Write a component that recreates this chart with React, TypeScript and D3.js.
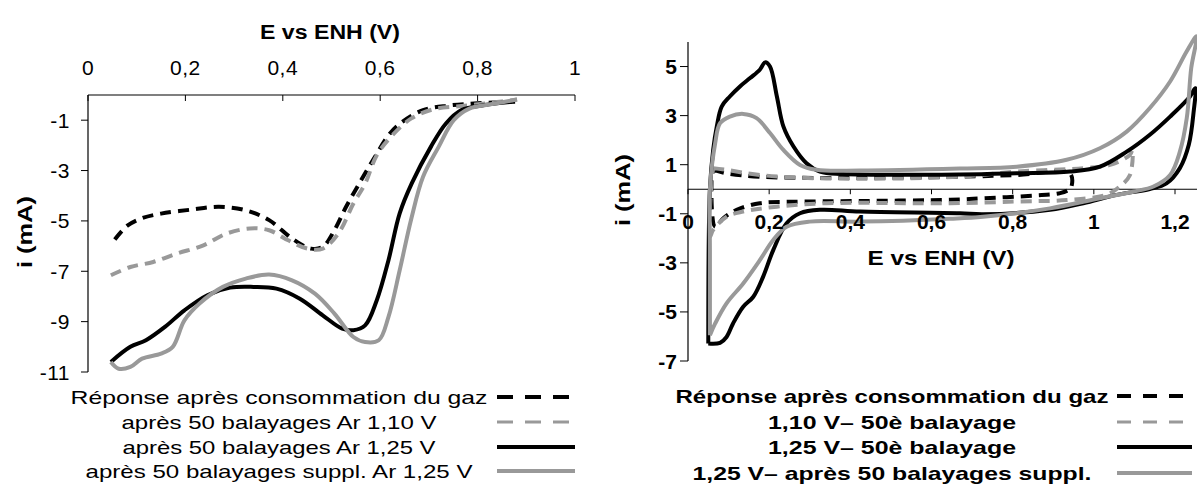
import React from "react";
import * as d3 from "d3";

// --- Graphique de gauche : voltampérométrie linéaire, E (V) / i (mA)
const lsvGaz = [[0.055,-5.74],[0.08,-5.2],[0.11,-4.9],[0.15,-4.71],[0.213,-4.55],[0.269,-4.44],[0.324,-4.58],[0.372,-4.97],[0.419,-5.7],[0.458,-6.1],[0.482,-6.03],[0.506,-5.37],[0.53,-4.44],[0.561,-3.38],[0.589,-2.46],[0.617,-1.6],[0.641,-1.13],[0.688,-0.6],[0.74,-0.42],[0.8,-0.33],[0.877,-0.27]];
const lsvAr110 = [[0.047,-7.16],[0.087,-6.83],[0.134,-6.63],[0.182,-6.3],[0.237,-5.97],[0.285,-5.5],[0.332,-5.3],[0.372,-5.37],[0.411,-5.77],[0.451,-6.1],[0.482,-6.1],[0.514,-5.5],[0.545,-4.31],[0.569,-3.52],[0.593,-2.39],[0.625,-1.6],[0.664,-0.93],[0.71,-0.56],[0.767,-0.44],[0.83,-0.3],[0.881,-0.18]];
const lsvAr125 = [[0.047,-10.6],[0.087,-10.0],[0.119,-9.74],[0.158,-9.21],[0.198,-8.55],[0.245,-7.95],[0.292,-7.65],[0.34,-7.62],[0.387,-7.69],[0.435,-8.09],[0.482,-8.75],[0.522,-9.28],[0.545,-9.34],[0.569,-9.15],[0.593,-8.15],[0.617,-6.56],[0.64,-4.7],[0.665,-3.5],[0.704,-2.06],[0.735,-1.13],[0.767,-0.6],[0.814,-0.4],[0.87,-0.27]];
const lsvSuppl = [[0.047,-10.6],[0.063,-10.87],[0.087,-10.8],[0.111,-10.47],[0.15,-10.27],[0.174,-10.0],[0.198,-8.95],[0.229,-8.28],[0.277,-7.62],[0.324,-7.29],[0.372,-7.13],[0.419,-7.36],[0.466,-7.89],[0.506,-8.68],[0.545,-9.61],[0.569,-9.81],[0.597,-9.74],[0.617,-8.81],[0.64,-6.96],[0.664,-4.9],[0.688,-3.25],[0.72,-2.06],[0.751,-1.0],[0.783,-0.54],[0.83,-0.36],[0.881,-0.18]];

// --- Graphique de droite : voltampérométrie cyclique (boucles fermées)
const cvGaz = [[0.062,0.79],[0.095,0.65],[0.177,0.51],[0.341,0.46],[0.67,0.51],[0.81,0.58],[0.941,0.65],[0.945,0.11],[0.94,0.0],[0.917,-0.16],[0.851,-0.26],[0.727,-0.37],[0.646,-0.43],[0.424,-0.48],[0.26,-0.51],[0.177,-0.57],[0.12,-0.84],[0.087,-1.18],[0.067,-1.53],[0.058,0.3],[0.062,0.79]];
const cv110 = [[0.062,0.86],[0.095,0.79],[0.177,0.58],[0.341,0.44],[0.67,0.51],[0.81,0.72],[0.974,0.86],[1.04,0.99],[1.089,1.4],[1.095,1.6],[1.089,0.58],[1.064,0.11],[1.031,-0.23],[0.933,-0.44],[0.81,-0.5],[0.646,-0.57],[0.341,-0.57],[0.219,-0.71],[0.136,-0.91],[0.095,-1.12],[0.062,-1.66],[0.054,-1.94],[0.058,0.3],[0.062,0.86]];
const cv125 = [[0.05,-6.29],[0.054,0.0],[0.062,1.6],[0.071,2.56],[0.083,3.37],[0.103,3.78],[0.128,4.19],[0.153,4.53],[0.177,4.87],[0.19,5.17],[0.202,5.0],[0.219,3.78],[0.235,2.56],[0.26,1.74],[0.292,1.06],[0.325,0.72],[0.382,0.62],[0.67,0.6],[0.81,0.65],[0.941,0.72],[1.015,0.92],[1.081,1.53],[1.138,2.22],[1.188,2.96],[1.237,3.78],[1.25,4.12],[1.246,3.17],[1.234,1.81],[1.212,0.86],[1.179,0.24],[1.138,0.01],[1.056,-0.23],[0.974,-0.57],[0.892,-0.84],[0.727,-1.02],[0.67,-0.98],[0.424,-0.91],[0.325,-0.84],[0.276,-0.98],[0.243,-1.39],[0.21,-2.48],[0.185,-3.57],[0.161,-4.38],[0.136,-4.79],[0.111,-5.47],[0.095,-6.02],[0.079,-6.26],[0.05,-6.29]];
const cvSuppl = [[0.054,-5.95],[0.054,-2.48],[0.054,0.0],[0.067,1.88],[0.079,2.69],[0.103,2.96],[0.136,3.07],[0.169,2.9],[0.202,2.29],[0.235,1.6],[0.276,0.99],[0.317,0.79],[0.424,0.76],[0.67,0.84],[0.81,0.92],[0.933,1.2],[1.015,1.67],[1.081,2.35],[1.138,3.31],[1.188,4.39],[1.229,5.62],[1.253,6.23],[1.24,4.94],[1.229,2.9],[1.212,1.53],[1.188,0.58],[1.147,0.11],[1.097,-0.1],[1.015,-0.37],[0.892,-0.78],[0.727,-1.12],[0.646,-1.2],[0.424,-1.32],[0.3,-1.32],[0.243,-1.53],[0.21,-2.07],[0.177,-2.89],[0.136,-3.84],[0.095,-4.65],[0.067,-5.47],[0.054,-5.95]];

const leftTicksX = [0, 0.2, 0.4, 0.6, 0.8, 1];
const leftTicksY = [-1, -3, -5, -7, -9, -11];
const rightTicksX = [0, 0.2, 0.4, 0.6, 0.8, 1, 1.2];
const rightTicksY = [5, 3, 1, -1, -3, -5, -7];

const legendLeft = ["Réponse après consommation du gaz", "après 50 balayages Ar 1,10 V", "après 50 balayages Ar 1,25 V", "après 50 balayages suppl. Ar 1,25 V"];
const legendRight = ["Réponse après consommation du gaz", "1,10 V– 50è balayage", "1,25 V– 50è balayage", "1,25 V– après 50 balayages suppl."];

const GRAY = "#999999";
const seriesStyle = [
  { color: "#000", dash: "11,7", w: 4 },
  { color: GRAY, dash: "11,7", w: 4 },
  { color: "#000", dash: null, w: 4 },
  { color: GRAY, dash: null, w: 4 },
];

const fr = d3.formatLocale({ decimal: ",", thousands: " ", grouping: [3], currency: ["", " €"], minus: "-" });
const fmt = fr.format("~g");

const FONT = "'Liberation Sans', Arial, sans-serif";

export default function App() {
  // gauche
  const xL = d3.scaleLinear().domain([0, 1]).range([88, 575]);
  const yL = d3.scaleLinear().domain([-11, 0]).range([372, 95]);
  // droite
  const xR = d3.scaleLinear().domain([0, 1.2]).range([688, 1175]);
  const yR = d3.scaleLinear().domain([-7, 6]).range([361, 42]);

  const lineL = d3.line().x((d) => xL(d[0])).y((d) => yL(d[1])).curve(d3.curveCatmullRom);
  const lineR = d3.line().x((d) => xR(d[0])).y((d) => yR(d[1])).curve(d3.curveCatmullRom);

  const leftSeries = [lsvGaz, lsvAr110, lsvAr125, lsvSuppl];
  const rightSeries = [cvGaz, cv110, cv125, cvSuppl];

  const legLeftY = [397, 422, 447, 471];
  const legLeftLen = [417, 315, 313, 387];
  const legRightY = [396, 422, 447, 473];
  const legRightLen = [433, 248, 248, 399];

  return (
    <svg width={1197} height={491} style={{ position: "absolute", left: 0, top: 0, background: "#fff" }} fontFamily={FONT}>
      <rect width={1197} height={491} fill="#fff" />

      {/* ---------- gauche ---------- */}
      <g>
        <text x={330} y={32} textAnchor="middle" dominantBaseline="central" fontSize={20} fontWeight="bold" textLength={140} lengthAdjust="spacingAndGlyphs">E vs ENH (V)</text>
        <text transform={`translate(24,232) rotate(-90)`} textAnchor="middle" dominantBaseline="central" fontSize={21} fontWeight="bold" textLength={72} lengthAdjust="spacingAndGlyphs">i (mA)</text>
        <line x1={xL(0)} x2={xL(1)} y1={yL(0)} y2={yL(0)} stroke="#000" strokeWidth={1.2} />
        <line x1={xL(0)} x2={xL(0)} y1={yL(0)} y2={yL(-11)} stroke="#000" strokeWidth={1.2} />
        {leftTicksX.map((t) => (
          <g key={t}>
            <line x1={xL(t)} x2={xL(t)} y1={yL(0)} y2={yL(0) + 6} stroke="#000" />
            <text x={xL(t)} y={67} textAnchor="middle" dominantBaseline="central" fontSize={21} letterSpacing={0.5}>{fmt(t)}</text>
          </g>
        ))}
        {leftTicksY.map((t) => (
          <g key={t}>
            <line x1={xL(0) - 7} x2={xL(0)} y1={yL(t)} y2={yL(t)} stroke="#000" />
            <text x={70} y={yL(t)} textAnchor="end" dominantBaseline="central" fontSize={21} letterSpacing={0.5}>{fmt(t)}</text>
          </g>
        ))}
        {leftSeries.map((s, i) => (
          <path key={i} d={lineL(s)} fill="none" stroke={seriesStyle[i].color} strokeWidth={seriesStyle[i].w} strokeDasharray={seriesStyle[i].dash || undefined} strokeLinejoin="round" />
        ))}
        {legendLeft.map((lab, i) => (
          <g key={i}>
            <text x={279} y={legLeftY[i]} textAnchor="middle" dominantBaseline="central" fontSize={19} textLength={legLeftLen[i]} lengthAdjust="spacingAndGlyphs">{lab}</text>
            <line x1={497} x2={575} y1={legLeftY[i]} y2={legLeftY[i]} stroke={seriesStyle[i].color} strokeWidth={i === 1 ? 3 : seriesStyle[i].w} strokeDasharray={seriesStyle[i].dash ? "16,12" : undefined} />
          </g>
        ))}
      </g>

      {/* ---------- droite ---------- */}
      <g>
        <text transform={`translate(622,190) rotate(-90)`} textAnchor="middle" dominantBaseline="central" fontSize={21} fontWeight="bold" textLength={72} lengthAdjust="spacingAndGlyphs">i (mA)</text>
        <text x={941} y={257} textAnchor="middle" dominantBaseline="central" fontSize={21} fontWeight="bold" textLength={147} lengthAdjust="spacingAndGlyphs">E vs ENH (V)</text>
        <line x1={xR(0)} x2={1197} y1={yR(0)} y2={yR(0)} stroke="#000" strokeWidth={1.2} />
        <line x1={xR(0)} x2={xR(0)} y1={yR(6)} y2={yR(-7)} stroke="#000" strokeWidth={1.2} />
        {rightTicksY.map((t) => (
          <g key={t}>
            <line x1={xR(0) - 8} x2={xR(0)} y1={yR(t)} y2={yR(t)} stroke="#000" />
            <text x={677} y={yR(t)} textAnchor="end" dominantBaseline="central" fontSize={21} fontWeight="bold">{fmt(t)}</text>
          </g>
        ))}
        {rightSeries.map((s, i) => (
          <path key={i} d={lineR(s)} fill="none" stroke={seriesStyle[i].color} strokeWidth={seriesStyle[i].w} strokeDasharray={seriesStyle[i].dash || undefined} strokeLinejoin="round" />
        ))}
        {rightTicksX.map((t) => (
          <g key={t}>
            <line x1={xR(t)} x2={xR(t)} y1={yR(0)} y2={yR(0) + 5} stroke="#000" />
            <text x={xR(t)} y={221} textAnchor="middle" dominantBaseline="central" fontSize={21} fontWeight="bold">{fmt(t)}</text>
          </g>
        ))}
        {legendRight.map((lab, i) => (
          <g key={i}>
            <text x={892} y={legRightY[i]} textAnchor="middle" dominantBaseline="central" fontSize={19} fontWeight="bold" textLength={legRightLen[i]} lengthAdjust="spacingAndGlyphs">{lab}</text>
            <line x1={1117} x2={1192} y1={legRightY[i]} y2={legRightY[i]} stroke={seriesStyle[i].color} strokeWidth={i === 1 ? 3 : seriesStyle[i].w} strokeDasharray={seriesStyle[i].dash ? "14,12" : undefined} />
          </g>
        ))}
      </g>
    </svg>
  );
}
